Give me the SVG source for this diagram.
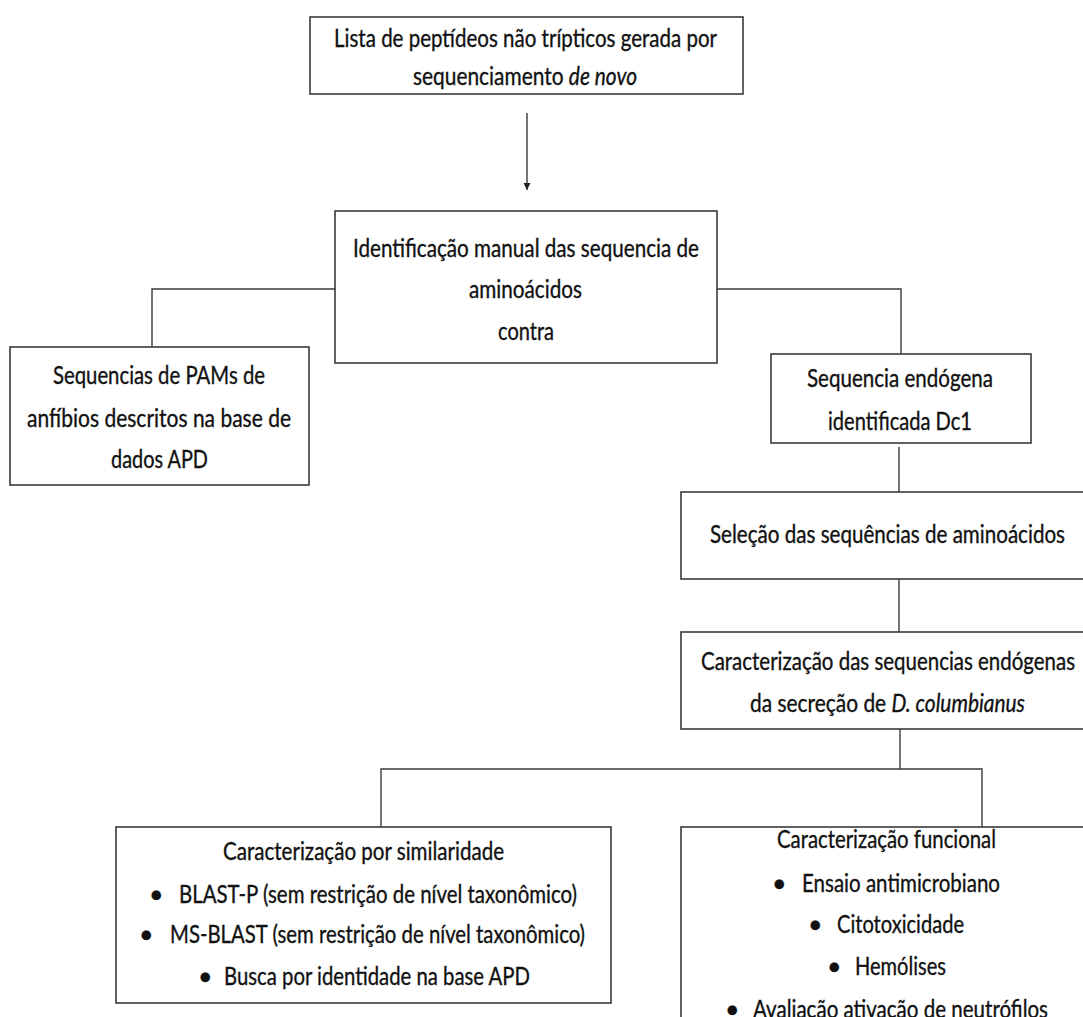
<svg xmlns="http://www.w3.org/2000/svg" width="1083" height="1017" viewBox="0 0 1083 1017">
  <defs>
    <style>
      .box { fill: #ffffff; stroke: #3a3a3a; stroke-width: 1.6; }
      .link { fill: none; stroke: #3a3a3a; stroke-width: 1.4; }
      .t { font-family: Lato, "Open Sans", "Liberation Sans", sans-serif; font-size: 25px; fill: #111111; stroke: #111111; stroke-width: 0.35; }
      .i { font-style: italic; }
    </style>
    <marker id="arrowhead" viewBox="0 0 10 10" refX="10" refY="5" markerWidth="7" markerHeight="10" markerUnits="userSpaceOnUse" orient="auto">
      <path d="M0,0 L10,5 L0,10 Z" fill="#222222"/>
    </marker>
  </defs>
  <rect width="1083" height="1017" fill="#ffffff"/>

  <!-- connectors -->
  <g id="connectors">
    <line class="link" x1="527" y1="113" x2="527" y2="190" marker-end="url(#arrowhead)"/>
    <polyline class="link" points="336,289 152,289 152,347"/>
    <polyline class="link" points="717,289 901,289 901,354"/>
    <line class="link" x1="899" y1="447" x2="899" y2="492"/>
    <line class="link" x1="899" y1="579" x2="899" y2="632"/>
    <line class="link" x1="900" y1="729" x2="900" y2="769"/>
    <polyline class="link" points="381,827 381,769 982,769 982,827"/>
  </g>

  <!-- source list -->
  <g id="node-lista">
    <rect class="box" x="310" y="17" width="433" height="77"/>
    <text class="t" x="334" y="47" textLength="383" lengthAdjust="spacingAndGlyphs">Lista de peptídeos não trípticos gerada por</text>
    <text class="t" x="413" y="85" textLength="224" lengthAdjust="spacingAndGlyphs">sequenciamento <tspan class="i">de novo</tspan></text>
  </g>

  <!-- manual identification -->
  <g id="node-identificacao">
    <rect class="box" x="335" y="211" width="382" height="152"/>
    <text class="t" x="353" y="257" textLength="346" lengthAdjust="spacingAndGlyphs">Identificação manual das sequencia de</text>
    <text class="t" x="469" y="298" textLength="113" lengthAdjust="spacingAndGlyphs">aminoácidos</text>
    <text class="t" x="498" y="340" textLength="56" lengthAdjust="spacingAndGlyphs">contra</text>
  </g>

  <!-- APD database -->
  <g id="node-pams">
    <rect class="box" x="10" y="347" width="299" height="138"/>
    <text class="t" x="53" y="384" textLength="212" lengthAdjust="spacingAndGlyphs">Sequencias de PAMs de</text>
    <text class="t" x="27" y="427" textLength="264" lengthAdjust="spacingAndGlyphs">anfíbios  descritos na base de</text>
    <text class="t" x="111" y="468" textLength="97" lengthAdjust="spacingAndGlyphs">dados APD</text>
  </g>

  <!-- endogenous sequence -->
  <g id="node-dc1">
    <rect class="box" x="771" y="354" width="260" height="89"/>
    <text class="t" x="807" y="387" textLength="186" lengthAdjust="spacingAndGlyphs">Sequencia endógena</text>
    <text class="t" x="828" y="430" textLength="144" lengthAdjust="spacingAndGlyphs">identificada Dc1</text>
  </g>

  <!-- selection -->
  <g id="node-selecao">
    <rect class="box" x="681" y="492" width="420" height="87"/>
    <text class="t" x="710" y="543" textLength="355" lengthAdjust="spacingAndGlyphs">Seleção das sequências de aminoácidos</text>
  </g>

  <!-- characterisation -->
  <g id="node-caracterizacao">
    <rect class="box" x="681" y="632" width="420" height="97"/>
    <text class="t" x="701" y="670" textLength="374" lengthAdjust="spacingAndGlyphs">Caracterização das sequencias endógenas</text>
    <text class="t" x="750" y="712" textLength="275" lengthAdjust="spacingAndGlyphs">da secreção de <tspan class="i">D. columbianus</tspan></text>
  </g>

  <!-- similarity -->
  <g id="node-similaridade">
    <rect class="box" x="116" y="827" width="495" height="176"/>
    <text class="t" x="223" y="860" textLength="281" lengthAdjust="spacingAndGlyphs">Caracterização por similaridade</text>
    <text class="t" x="149" y="903">•</text>
    <text class="t" x="179" y="903" textLength="398" lengthAdjust="spacingAndGlyphs">BLAST-P (sem restrição de nível taxonômico)</text>
    <text class="t" x="139" y="943">•</text>
    <text class="t" x="170" y="943" textLength="415" lengthAdjust="spacingAndGlyphs">MS-BLAST (sem restrição de nível taxonômico)</text>
    <text class="t" x="198" y="985">•</text>
    <text class="t" x="224" y="985" textLength="306" lengthAdjust="spacingAndGlyphs">Busca por identidade na base APD</text>
  </g>

  <!-- functional -->
  <g id="node-funcional">
    <rect class="box" x="681" y="827" width="420" height="200"/>
    <text class="t" x="777" y="848" textLength="219" lengthAdjust="spacingAndGlyphs">Caracterização funcional</text>
    <text class="t" x="772" y="892">•</text>
    <text class="t" x="802" y="892" textLength="198" lengthAdjust="spacingAndGlyphs">Ensaio antimicrobiano</text>
    <text class="t" x="808" y="933">•</text>
    <text class="t" x="837" y="933" textLength="127" lengthAdjust="spacingAndGlyphs">Citotoxicidade</text>
    <text class="t" x="827" y="975">•</text>
    <text class="t" x="855" y="975" textLength="91" lengthAdjust="spacingAndGlyphs">Hemólises</text>
    <text class="t" x="725" y="1018">•</text>
    <text class="t" x="753" y="1018" textLength="295" lengthAdjust="spacingAndGlyphs">Avaliação ativação de neutrófilos</text>
  </g>
</svg>
